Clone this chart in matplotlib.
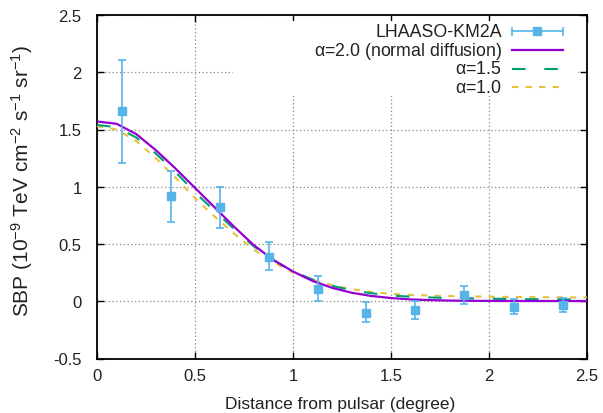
import matplotlib
matplotlib.use("Agg")
import matplotlib.pyplot as plt
from matplotlib.patches import Rectangle
from matplotlib.lines import Line2D

plt.rcParams['font.family'] = ['Liberation Sans', 'DejaVu Sans']
plt.rcParams['mathtext.fontset'] = 'custom'
plt.rcParams['mathtext.rm'] = 'Liberation Sans'
plt.rcParams['mathtext.it'] = 'Liberation Sans'

# Data
data_x = [0.125, 0.375, 0.625, 0.875, 1.125, 1.375, 1.625, 1.875, 2.125, 2.375]
data_y = [1.66, 0.92, 0.82, 0.39, 0.11, -0.10, -0.08, 0.055, -0.05, -0.03]
data_lo = [1.21, 0.69, 0.64, 0.27, 0.00, -0.185, -0.155, -0.025, -0.11, -0.09]
data_hi = [2.11, 1.14, 1.00, 0.52, 0.22, -0.01, 0.00, 0.13, 0.02, 0.03]

curve_x = [0.0, 0.1, 0.2, 0.3, 0.4, 0.5, 0.6, 0.7, 0.8, 0.9, 1.0, 1.1, 1.2,
           1.3, 1.4, 1.5, 1.6, 1.7, 1.8, 1.9, 2.0, 2.1, 2.2, 2.3, 2.4, 2.5]
alpha20 = [1.57, 1.55, 1.46, 1.32, 1.16, 0.99, 0.82, 0.65, 0.49, 0.36, 0.26,
           0.177, 0.117, 0.074, 0.046, 0.028, 0.016, 0.010, 0.006, 0.004,
           0.003, 0.002, 0.002, 0.002, 0.002, 0.002]
alpha15 = [1.54, 1.52, 1.43, 1.29, 1.13, 0.95, 0.79, 0.63, 0.48, 0.36, 0.26,
           0.19, 0.135, 0.095, 0.07, 0.05, 0.04, 0.033, 0.028, 0.025, 0.022,
           0.020, 0.018, 0.017, 0.016, 0.015]
alpha10 = [1.53, 1.50, 1.40, 1.25, 1.08, 0.90, 0.74, 0.59, 0.45, 0.34, 0.25,
           0.185, 0.14, 0.105, 0.08, 0.065, 0.055, 0.05, 0.045, 0.042, 0.04,
           0.038, 0.036, 0.035, 0.034, 0.033]

labels = ['LHAASO-KM2A', r'$\alpha$=2.0 (normal diffusion)', r'$\alpha$=1.5', r'$\alpha$=1.0']
xticks = [0, 0.5, 1, 1.5, 2, 2.5]
xticklabels = ['0', '0.5', '1', '1.5', '2', '2.5']
yticks = [-0.5, 0, 0.5, 1, 1.5, 2, 2.5]
yticklabels = ['-0.5', '0', '0.5', '1', '1.5', '2', '2.5']

c_data = '#56b4e9'
c_a20 = '#9400d3'
c_a15 = '#009e73'
c_a10 = '#e6c040'
c_text = '#222222'

fig = plt.figure(figsize=(6.03, 4.14), dpi=100)
ax = fig.add_axes([97/603, 1-359.5/414, 490/603, 343.5/414])

ax.set_xlim(0, 2.5)
ax.set_ylim(-0.5, 2.5)
ax.set_xticks(xticks)
ax.set_xticklabels(xticklabels)
ax.set_yticks(yticks)
ax.set_yticklabels(yticklabels)
ax.tick_params(direction='in', top=True, right=True, length=5, width=1,
               labelsize=12, colors='black', labelcolor=c_text)
ax.tick_params(axis='x', pad=7)
ax.tick_params(axis='y', pad=11)
for sp in ax.spines.values():
    sp.set_linewidth(1.3)
ax.grid(True, color='#8a8a8a', linestyle=(0, (1, 2)), linewidth=0.9)
ax.set_axisbelow(True)

ax.plot(curve_x, alpha10, color=c_a10, lw=1.5, dashes=(3, 3.5), zorder=3)
ax.plot(curve_x, alpha15, color=c_a15, lw=1.5, dashes=(6.5, 9), zorder=3)
ax.plot(curve_x, alpha20, color=c_a20, lw=1.6, zorder=4)

yerr = [[y - lo for y, lo in zip(data_y, data_lo)],
        [hi - y for y, hi in zip(data_y, data_hi)]]
ax.errorbar(data_x, data_y, yerr=yerr, fmt='s', color=c_data, ms=6,
            elinewidth=1.2, capsize=3, capthick=1.2, zorder=5)

# legend (gnuplot style, right-aligned text)
def fx(px):
    return (px - 97) / 490
def fy(py):
    return (359.5 - py) / 343.5

ax.add_patch(Rectangle((fx(233), fy(97)), fx(578) - fx(233), fy(22) - fy(97),
                       transform=ax.transAxes, facecolor='white',
                       edgecolor='none', zorder=2))
rows = [32.3, 51, 70, 88.3]
x0, x1, xm = fx(512), fx(563), fx(537.5)
for lab, py in zip(labels, rows):
    ax.text(fx(502), fy(py), lab, transform=ax.transAxes, ha='right',
            va='center', fontsize=12.8, color=c_text, zorder=6)
# sample lines
ax.add_line(Line2D([x0, x1], [fy(rows[0])] * 2, transform=ax.transAxes,
                   color=c_data, lw=1.2, zorder=6))
ax.add_line(Line2D([xm], [fy(rows[0])], transform=ax.transAxes, marker='s',
                   ms=6, color=c_data, zorder=6))
for xe in (x0, x1):
    ax.add_line(Line2D([xe, xe], [fy(rows[0] - 3.5), fy(rows[0] + 3.5)],
                       transform=ax.transAxes, color=c_data, lw=1.2, zorder=6))
ax.add_line(Line2D([x0, x1], [fy(rows[1])] * 2, transform=ax.transAxes,
                   color=c_a20, lw=1.6, zorder=6))
ax.add_line(Line2D([x0, x1], [fy(rows[2])] * 2, transform=ax.transAxes,
                   color=c_a15, lw=1.5, dashes=(6.5, 9), zorder=6))
ax.add_line(Line2D([x0, x1], [fy(rows[3])] * 2, transform=ax.transAxes,
                   color=c_a10, lw=1.5, dashes=(3, 3.5), zorder=6))

ax.set_xlabel('Distance from pulsar (degree)', fontsize=12.5, color=c_text)
ax.xaxis.set_label_coords(fx(340), (359.5 - 405) / 343.5)
ax.xaxis.label.set_va('center')
ax.set_ylabel(r'SBP (10$^{-9}$ TeV cm$^{-2}$ s$^{-1}$ sr$^{-1}$)', fontsize=15,
              color=c_text)
ax.yaxis.set_label_coords(fx(22), fy(181))
ax.yaxis.label.set_va('center')

fig.savefig('out.png', dpi=100)
